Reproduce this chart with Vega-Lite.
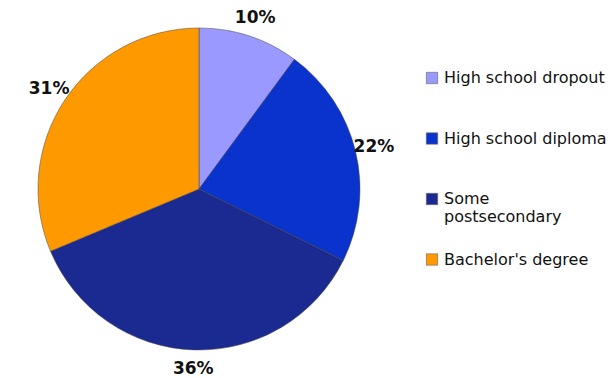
{
  "$schema": "https://vega.github.io/schema/vega-lite/v6.json",
  "width": 398,
  "height": 378,
  "padding": 0,
  "autosize": {"type": "pad"},
  "background": "white",
  "data": {"values": [
    {"category": "High school dropout", "value": 10, "label": "10%", "ord": 1},
    {"category": "High school diploma", "value": 22, "label": "22%", "ord": 2},
    {"category": "Some postsecondary", "value": 36, "label": "36%", "ord": 3},
    {"category": "Bachelor's degree", "value": 31, "label": "31%", "ord": 4}
  ]},
  "encoding": {
    "theta": {"field": "value", "type": "quantitative", "stack": true},
    "order": {"field": "ord", "type": "quantitative"},
    "color": {
      "field": "category", "type": "nominal",
      "scale": {
        "domain": ["High school dropout", "High school diploma", "Some postsecondary", "Bachelor's degree"],
        "range": ["#9999FF", "#0A32CC", "#1B2A90", "#FF9900"]
      },
      "legend": {
        "title": null,
        "orient": "none",
        "legendX": 424,
        "legendY": 70,
        "symbolType": "square",
        "symbolSize": 130,
        "symbolStrokeColor": "#666",
        "symbolStrokeWidth": 0.6,
        "labelFont": "DejaVu Sans",
        "labelFontSize": 16,
        "labelColor": "#111",
        "labelOffset": 4,
        "rowPadding": 26.5,
        "labelLimit": 300,
        "labelExpr": "datum.label == 'Some postsecondary' ? ['Some', 'postsecondary'] : [datum.label, '']"
      }
    }
  },
  "layer": [
    {"mark": {"type": "arc", "outerRadius": 161, "stroke": "#444", "strokeWidth": 0.5}},
    {
      "mark": {"type": "text", "radius": 180, "font": "DejaVu Sans", "fontWeight": "bold", "fontSize": 17, "color": "#111"},
      "encoding": {"text": {"field": "label"}, "color": {"value": "#111"}}
    }
  ]
}
